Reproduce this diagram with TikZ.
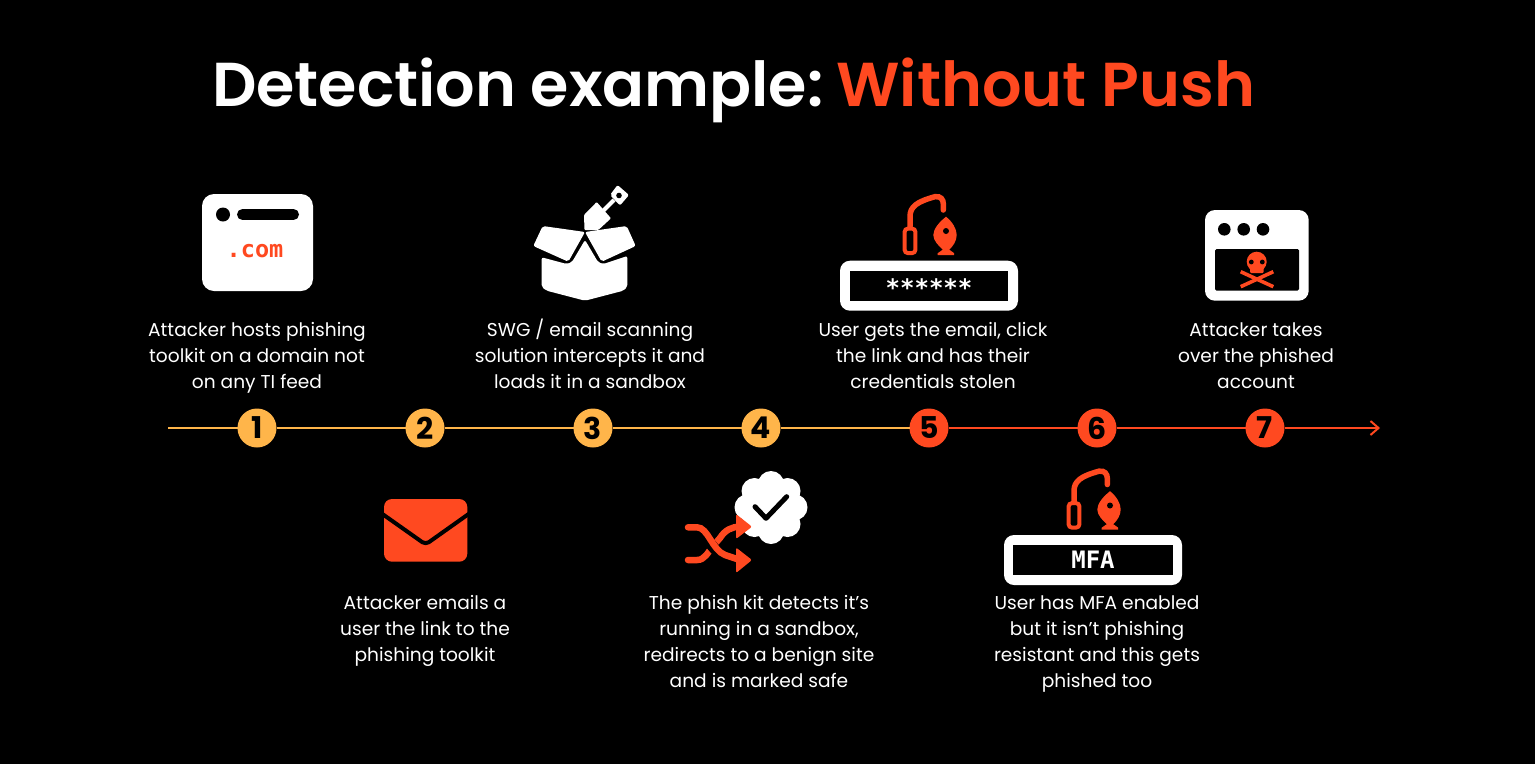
\documentclass[tikz,border=0pt]{standalone}
\usepackage{fontspec}
\setmainfont{Poppins}
\newfontfamily\titlefont[UprightFont=* SemiBold]{Poppins}
\newfontfamily\codefont[UprightFont=* Bold]{DejaVu Sans Mono}
\usepackage{xcolor}
\definecolor{PushRed}{HTML}{FF4920}
\definecolor{PushAmber}{HTML}{FFB54A}
\usetikzlibrary{positioning,arrows.meta}
\begin{document}
\begin{tikzpicture}[x=1pt, y=-1pt, line width=2pt,
    >={Straight Barb[length=8pt,width=14pt]},
    stepdot/.style={
    circle,
    inner sep=0pt,
    outer sep=0pt,
    minimum size=39pt,
    text=black,
    font=\fontsize{30}{30}\selectfont\bfseries},
    caption/.style={
    align=center,
    inner sep=0pt,
    outer sep=0pt,
    text=white,
    execute at begin node=\strut,
    execute at end node=\strut,
    font=\fontsize{18.6}{26}\selectfont},
    code/.style={
    text=white,
    inner sep=0pt,
    font=\fontsize{24}{24}\selectfont\codefont},
    hookicon/.pic={
    \draw[PushRed, line width=4pt, rounded corners=3pt] (2,2) rectangle (12.6,26.3);
    \draw[PushRed, line width=5.5pt, line cap=round] (7.3,0) -- (7.3,-10)
        .. controls (7.3,-20) and (14,-25) .. (32.3,-30)
        .. controls (38,-31) and (40.6,-27) .. (40.6,-23) -- (40.6,-16.7);
    \fill[PushRed] (43.3,-10) .. controls (37,-5) and (30.6,2) .. (30.6,8.3)
        .. controls (30.6,14) and (36,19) .. (40,23) -- (35,26.5) -- (35,28.3) -- (51.5,28.3) -- (51.5,26.5) -- (46.6,23)
        .. controls (50.6,19) and (54,14) .. (54,8.3)
        .. controls (54,2) and (49.6,-5) .. (43.3,-10) -- cycle;
    \fill[black] (43.3,4.3) circle (3);
    }]

    \path[fill=black, use as bounding box] (0,0) rectangle (1535,764);

    \node [anchor=base west, inner sep=0pt, text=white,
           font=\fontsize{62}{62}\selectfont\titlefont] (Title) at (211,106)
           {Detection example:\hspace{13pt}\textcolor{PushRed}{Without Push}};

    \coordinate (Start) at (168,428);
    \coordinate (End) at (1380,428);

    \node [stepdot, fill=PushAmber] (S1) at (257,428) {1};
    \node [stepdot, fill=PushAmber, right=129pt of S1] (S2) {2};
    \node [stepdot, fill=PushAmber, right=129pt of S2] (S3) {3};
    \node [stepdot, fill=PushAmber, right=129pt of S3] (S4) {4};
    \node [stepdot, fill=PushRed, right=129pt of S4] (S5) {5};
    \node [stepdot, fill=PushRed, right=129pt of S5] (S6) {6};
    \node [stepdot, fill=PushRed, right=129pt of S6] (S7) {7};

    \draw[color=PushAmber] (Start) -- (S1);
    \draw[color=PushAmber] (S1) -- (S2);
    \draw[color=PushAmber] (S2) -- (S3);
    \draw[color=PushAmber] (S3) -- (S4);
    \draw[color=PushAmber] (S4) -- (S5);
    \draw[color=PushRed] (S5) -- (S6);
    \draw[color=PushRed] (S6) -- (S7);
    \draw[->, color=PushRed] (S7) -- (End);

    \node [caption, above=12.7pt of S1] (Text1) {Attacker hosts phishing\\toolkit on a domain not\\on any TI feed};
    \node [caption, below=148pt of S2] (Text2) {Attacker emails a\\user the link to the\\phishing toolkit};
    \node [caption, above=12.7pt of S3, xshift=-3pt] (Text3) {SWG / email scanning\\solution intercepts it and\\loads it in a sandbox};
    \node [caption, below=148pt of S4, xshift=-2pt] (Text4) {The phish kit detects it’s\\running in a sandbox,\\redirects to a benign site\\and is marked safe};
    \node [caption, above=12.7pt of S5, xshift=4pt] (Text5) {User gets the email, click\\the link and has their\\credentials stolen};
    \node [caption, below=148pt of S6] (Text6) {User has MFA enabled\\but it isn’t phishing\\resistant and this gets\\phished too};
    \node [caption, above=12.7pt of S7, xshift=-9pt] (Text7) {Attacker takes\\over the phished\\account};

    \fill[white, rounded corners=12pt] (202,194) rectangle (313,291);
    \fill[black] (223,214.5) circle (7);
    \draw[black, line width=11pt, line cap=round] (242.5,214.5) -- (293.5,214.5);
    \node [code, text=PushRed, font=\fontsize{23.5}{23.5}\selectfont\codefont] (Dotcom) at (255,251) {.com};

    \fill[white, rounded corners=2pt] (542.7,226) -- (585,232) -- (568.3,261.7) -- (533.3,246) -- cycle;
    \fill[white, rounded corners=2pt] (626.7,226) -- (585,232) -- (601.7,261.7) -- (635.7,246) -- cycle;
    \fill[white, rounded corners=2pt] (541.7,257.3) -- (566.7,264) -- (572,262) -- (585,240) -- (598,262) -- (603.3,264) -- (627.3,256)
        -- (627.3,287) -- (623.3,290.7) -- (585,300.7) -- (546.7,290.7) -- (541.7,287) -- cycle;
    \fill[white, rounded corners=1pt] (596.7,202) -- (611,218.3) -- (598.3,230) -- (584.5,230) -- (584,215) -- cycle;
    \draw[white, line width=4pt] (603,211) -- (614,200);
    \fill[white, rounded corners=2pt] (617.5,185) -- (629,195) -- (620,205.5) -- (610,195) -- cycle;
    \fill[black] (619,195.5) circle (2.8);

    \pic (Hook1) at (902.7,226.7) {hookicon};
    \fill[white, rounded corners=10pt] (840,260.7) rectangle (1018,310.7);
    \fill[black] (850,270.7) rectangle (1008,300.7);
    \node [code] (Stars) at (929,288) {******};

    \fill[white, rounded corners=10pt] (1205,210) rectangle (1308.7,300.7);
    \fill[black] (1224.3,229.3) circle (6.3);
    \fill[black] (1243.7,229.3) circle (6.3);
    \fill[black] (1263,229.3) circle (6.3);
    \fill[black, rounded corners=1.5pt] (1215,249) rectangle (1299,290.7);
    \fill[PushRed] (1256.7,261.7) circle (10);
    \fill[PushRed, rounded corners=1pt] (1250,262) rectangle (1263.5,273);
    \fill[black] (1251.3,262) circle (2.4);
    \fill[black] (1262.3,262) circle (2.4);
    \draw[PushRed, line width=3.6pt] (1240.7,271.7) -- (1273.3,286.7);
    \draw[PushRed, line width=3.6pt] (1273.3,271.7) -- (1240.7,286.7);

    \fill[PushRed, rounded corners=8pt] (384,499) rectangle (467.3,561.7);
    \draw[black, line width=4pt, rounded corners=4pt] (381,513) -- (425.6,544.5) -- (470,513);

    \fill[white] (771,507.3) circle (26);
    \fill[white] (771,484) circle (13);
    \fill[white] (787.5,491) circle (13);
    \fill[white] (794.5,507.3) circle (13);
    \fill[white] (787.5,524) circle (13);
    \fill[white] (771,531) circle (13);
    \fill[white] (754.5,524) circle (13);
    \fill[white] (747.5,507.3) circle (13);
    \fill[white] (754.5,491) circle (13);
    \draw[black, line width=5pt, line cap=round, line join=round] (755,506.7) -- (766,518.3) -- (786.7,496.7);

    \draw[PushRed, line width=6.5pt, line cap=round] (688,560) -- (697,560)
        .. controls (705,560) and (708,552) .. (713,546) -- (720,538)
        .. controls (725,530) and (732,526.7) .. (740,526.7);
    \draw[black, line width=11pt] (703,532) .. controls (708,540) and (712,548) .. (720,553);
    \draw[PushRed, line width=6.5pt, line cap=round] (688,527.3) -- (697,527.3)
        .. controls (708,527.3) and (712,550) .. (725,555) -- (740,560);
    \fill[PushRed, rounded corners=2pt] (736,514) -- (752,526.7) -- (736,539) -- cycle;
    \fill[PushRed, rounded corners=2pt] (736,547.5) -- (752,560) -- (736,573) -- cycle;

    \pic (Hook2) at (1066.7,501.2) {hookicon};
    \fill[white, rounded corners=10pt] (1004,535) rectangle (1182,585);
    \fill[black] (1013.3,545) rectangle (1172.7,575);
    \node [code] (Mfa) at (1093,560) {MFA};
\end{tikzpicture}
\end{document}
